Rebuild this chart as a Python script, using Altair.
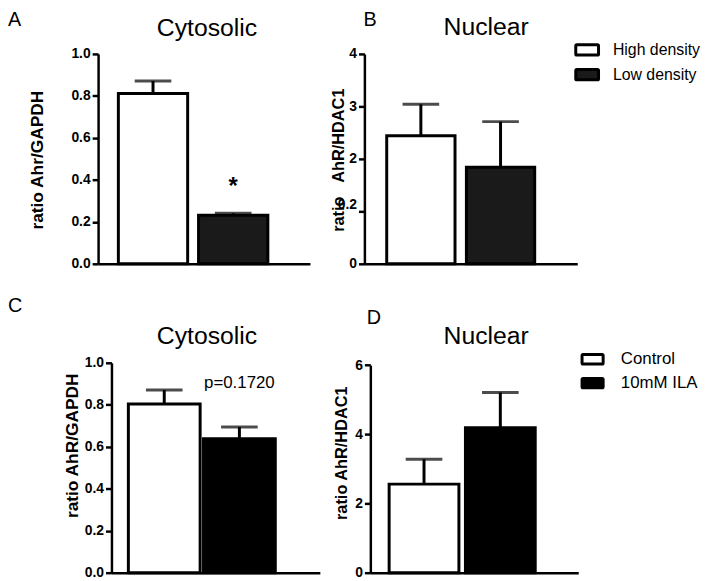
import altair as alt
import pandas as pd

FONT = "Liberation Sans"

# ---- data ----
a_groups = ["High density", "Low density"]
a_means = [0.811, 0.231]
a_sems = [0.060, 0.010]

b_groups = ["High density", "Low density"]
b_means = [2.44, 1.84]
b_sems = [0.60, 0.87]

c_groups = ["Control", "10mM ILA"]
c_means = [0.804, 0.638]
c_sems = [0.066, 0.056]

d_groups = ["Control", "10mM ILA"]
d_means = [2.56, 4.19]
d_sems = [0.72, 1.02]

a_ticks = [0.0, 0.2, 0.4, 0.6, 0.8, 1.0]
b_ticks = [0, 1, 2, 3, 4]
c_ticks = [0.0, 0.2, 0.4, 0.6, 0.8, 1.0]
d_ticks = [0, 2, 4, 6]

W, H = 225, 212

RECT = ("M-0.9,-0.45H0.9Q1,-0.45,1,-0.35V0.35Q1,0.45,0.9,0.45"
        "H-0.9Q-1,0.45,-1,0.35V-0.35Q-1,-0.45,-0.9,-0.45Z")


def label(text, x, y, size, align="left", weight="normal"):
    return alt.Chart(pd.DataFrame({"t": [text]})).mark_text(
        font=FONT, fontSize=size, fontWeight=weight, align=align,
        baseline="alphabetic", color="black"
    ).encode(text="t:N", x=alt.value(x), y=alt.value(y))


def panel(groups, means, sems, colors, ymax, yticks, fmt, xrange, band,
          yrange, yoffset, ytitle, ytitle_size, ytitle_x, ytitle_y,
          letter, letter_xy, heading, heading_x, extra=None, legend=None,
          label_expr=None, label_baseline=None):
    df = pd.DataFrame({"group": groups, "mean": means,
                       "hi": [m + s for m, s in zip(means, sems)]})
    pi, po, al = band
    xs = alt.Scale(domain=groups, range=xrange, paddingInner=pi,
                   paddingOuter=po, align=al)
    xax = alt.Axis(labels=False, ticks=False, title=None, domain=True,
                   domainColor="black", domainWidth=2.5)
    yax_kw = dict(values=yticks, format=fmt, title=ytitle, grid=False,
                  offset=yoffset, titleX=ytitle_x, titleY=ytitle_y,
                  titleFontSize=ytitle_size, titleBaseline="middle")
    if label_expr:
        yax_kw["labelExpr"] = label_expr
    if label_baseline:
        yax_kw["labelBaseline"] = label_baseline
    ys = alt.Scale(domain=[0, ymax], range=yrange, nice=False, zero=True)
    base = alt.Chart(df)
    bars = base.mark_bar(stroke="black", strokeWidth=3, strokeJoin="miter").encode(
        x=alt.X("group:N", sort=groups, scale=xs, axis=xax),
        y=alt.Y("mean:Q", scale=ys, axis=alt.Axis(**yax_kw)),
        fill=alt.Fill("group:N", sort=groups,
                      scale=alt.Scale(domain=groups, range=colors),
                      legend=legend),
    )
    rule = base.mark_rule(color="black", strokeWidth=3).encode(
        x=alt.X("group:N", sort=groups), y="mean:Q", y2="hi:Q")
    cap = base.mark_tick(color="black", thickness=3, size=37,
                         orient="horizontal").encode(
        x=alt.X("group:N", sort=groups), y="hi:Q")
    layers = [bars, rule, cap]
    if extra is not None:
        layers.append(extra)
    layers.append(label(letter, letter_xy[0], letter_xy[1], 20))
    layers.append(label(heading, heading_x[0], heading_x[1], 25, align="center"))
    return alt.layer(*layers).properties(width=W, height=H)


def legend_params(x, y, size, font_size, offset):
    return alt.Legend(orient="none", legendX=x, legendY=y, title=None,
                      symbolType=RECT, symbolSize=size, symbolStrokeColor="black",
                      symbolStrokeWidth=3, symbolOpacity=1, labelFont=FONT,
                      labelFontSize=font_size, labelColor="black",
                      labelOffset=offset, rowPadding=-1, padding=0)


# asterisk in A, p value in C
star = alt.Chart(pd.DataFrame({"group": ["Low density"], "y": [0.333], "t": ["*"]})).mark_text(
    font=FONT, fontSize=24, fontWeight="bold", baseline="alphabetic", color="black"
).encode(x=alt.X("group:N", sort=a_groups), y="y:Q", text="t:N")

ptext = alt.Chart(pd.DataFrame({"group": ["10mM ILA"], "y": [0.880], "t": ["p=0.1720"]})).mark_text(
    font=FONT, fontSize=17, baseline="alphabetic", color="black"
).encode(x=alt.X("group:N", sort=c_groups), y="y:Q", text="t:N")

pA = panel(a_groups, a_means, a_sems, ["white", "#1a1a1a"], 1.0, a_ticks, ".1f",
           [0, 214], (0.1358, 0.389, 0.325), [212, 0], 0,
           "ratio Ahr/GAPDH", 17.5, -61, 106.8,
           "A", (-91, -28.2), "Cytosolic", (110, -18.4), extra=star)

pB = panel(b_groups, b_means, b_sems, ["white", "#1a1a1a"], 4, b_ticks, "d",
           [0, 215], (0.1429, 0.407, 0.344), [212, 0], 0,
           "ratio\u00a0\u00a0\u00a0AhR/HDAC1", 16.5, -26, 106.8,
           "B", (-1, -28.2), "Nuclear", (123, -19),
           legend=legend_params(212, -17, 529, 16, 13),
           label_expr="datum.value == 1 ? '0.2' : datum.label",
           label_baseline=alt.ConditionalAxisLabelBaseline(
               condition={"test": "datum.value == 1", "value": "bottom"}, value="middle"))

pC = panel(c_groups, c_means, c_sems, ["white", "black"], 1.0, c_ticks, ".1f",
           [13.5, 224], (0.0448, 0.409, 0.275), [212, 0], -13.5,
           "ratio AhR/GAPDH", 17.5, -39, 83.3,
           "C", (-91, -51), "Cytosolic", (110, -19.4), extra=ptext)

pD = panel(d_groups, d_means, d_sems, ["white", "black"], 6, d_ticks, "d",
           [6, 216], (0.0856, 0.405, 0.304), [212, 2.3], -6,
           "ratio AhR/HDAC1", 16.5, -29.5, 90.8,
           "D", (2.3, -39.4), "Nuclear", (123, -19.4),
           legend=legend_params(218, -16, 454, 17, 16))

chart = alt.concat(pA, pB, pC, pD, columns=2,
                   spacing={"row": 100, "column": 44}, bounds="flush").resolve_scale(
    x="independent", y="independent", fill="independent"
).resolve_legend(fill="independent").properties(
    padding={"left": 0, "top": -1.5, "right": 0, "bottom": 0}
).configure_view(stroke=None).configure_axis(
    domainColor="black", domainWidth=2.5, tickColor="black", tickWidth=2.5,
    tickSize=6, labelFont=FONT, labelFontWeight="bold", labelFontSize=14,
    labelColor="black", labelPadding=2, titleFont=FONT, titleFontWeight="bold",
    titleColor="black"
)

chart.save("out.html", embed_options={"renderer": "svg", "actions": False})
